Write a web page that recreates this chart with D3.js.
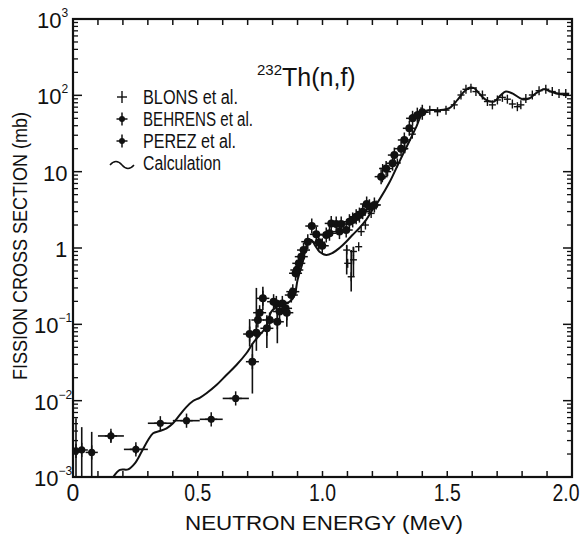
<!DOCTYPE html>
<html lang="en">
<head>
<meta charset="UTF-8">
<title>232Th(n,f)</title>
<script src="https://cdn.jsdelivr.net/npm/d3@7/dist/d3.min.js"></script>
<style>
  body { margin: 0; background: #fff; }
  svg { display: block; }
  text { font-family: "Liberation Sans", Arimo, sans-serif; fill: #111; }
</style>
</head>
<body>
<svg id="mainsvg" width="584" height="535"></svg>
<script>
// calculation curve (MeV, mb)
const calcE = [0.161, 0.188, 0.221, 0.248, 0.275, 0.301, 0.321, 0.348, 0.375, 0.401, 0.428, 0.455, 0.481, 0.508, 0.535, 0.575, 0.615, 0.655, 0.695, 0.721, 0.748, 0.775, 0.795, 0.828, 0.868, 0.888, 0.9, 0.92, 0.94, 0.955, 0.972, 0.988, 1.015, 1.04, 1.068, 1.095, 1.12, 1.148, 1.175, 1.2, 1.228, 1.268, 1.308, 1.348, 1.375, 1.401, 1.428, 1.468, 1.508, 1.541, 1.568, 1.588, 1.608, 1.628, 1.655, 1.688, 1.715, 1.735, 1.761, 1.801, 1.828, 1.855, 1.888, 1.915, 1.948, 1.988];
const calcS = [0.001, 0.00124, 0.00126, 0.00151, 0.00214, 0.00305, 0.00374, 0.0040, 0.00435, 0.00506, 0.0065, 0.0083, 0.0099, 0.0109, 0.0125, 0.016, 0.0217, 0.0293, 0.0418, 0.0565, 0.0725, 0.093, 0.147, 0.179, 0.198, 0.242, 0.381, 0.637, 1.16, 1.27, 1.06, 0.895, 0.81, 0.86, 1.0, 1.21, 1.48, 1.83, 2.33, 3.15, 4.3, 7.2, 13.5, 25, 38, 58, 64, 64, 68, 87, 112, 126, 124, 106, 87, 83, 101, 112, 106, 89, 91, 106, 120, 112, 104, 101];

// BLONS et al.
const blonsE = [1.097, 1.101, 1.115, 1.124, 1.124, 1.145, 1.155, 1.172, 1.195, 1.215, 1.24, 1.241, 1.261, 1.30, 1.33, 1.36, 1.395, 1.43, 1.461, 1.495, 1.528, 1.555, 1.575, 1.595, 1.615, 1.641, 1.661, 1.681, 1.701, 1.721, 1.741, 1.761, 1.781, 1.795, 1.815, 1.841, 1.868, 1.895, 1.921, 1.948, 1.975];
const blonsS = [0.94, 0.63, 0.42, 0.9, 0.70, 1.04, 1.64, 2.0, 2.84, 3.66, 8.3, 11, 10, 13, 20, 31, 61, 64, 61, 64, 75, 101, 120, 124, 112, 101, 83, 75, 87, 94, 89, 77, 71, 75, 91, 101, 115, 120, 112, 106, 106];
const blonsErrE = [1.097, 1.115, 1.124];
const blonsErrLo = [0.45, 0.27, 0.42];
const blonsErrHi = [1.1, 0.94, 1.04];

// BEHRENS et al.
const behE = [0.708, 0.719, 0.735, 0.741, 0.748, 0.761, 0.777, 0.788, 0.804, 0.815, 0.819, 0.828, 0.839, 0.852, 0.857, 0.875, 0.881, 0.892, 0.897, 0.905, 0.915, 0.924, 0.941, 0.957, 0.975, 0.985, 0.999, 1.015, 1.028, 1.035, 1.055, 1.068, 1.075, 1.095, 1.108, 1.121, 1.135, 1.148, 1.161, 1.177, 1.188, 1.208, 1.235, 1.255, 1.281, 1.288, 1.315, 1.328, 1.348, 1.361, 1.38, 1.40];
const behS = [0.0746, 0.0324, 0.0776, 0.114, 0.142, 0.219, 0.0887, 0.114, 0.198, 0.188, 0.108, 0.147, 0.188, 0.162, 0.142, 0.242, 0.268, 0.467, 0.515, 0.63, 0.77, 0.94, 1.21, 1.94, 1.51, 1.19, 1.07, 1.48, 1.56, 2.1, 2.06, 1.64, 2.06, 1.72, 2.21, 2.33, 2.57, 2.7, 2.99, 3.77, 3.47, 3.66, 8.6, 11, 12.9, 16.5, 20, 26, 37, 50, 55, 60];
const behErrE = [0.708, 0.719, 0.735, 0.761, 0.777, 0.819, 0.857];
const behErrLo = [0.051, 0.0124, 0.045, 0.154, 0.049, 0.0565, 0.093];
const behErrHi = [0.117, 0.057, 0.30, 0.311, 0.132, 0.14, 0.174];

// PEREZ et al.
const perezE = [0.012, 0.035, 0.075, 0.152, 0.252, 0.35, 0.455, 0.554, 0.652];
const perezS = [0.0022, 0.00226, 0.0021, 0.00345, 0.0023, 0.00506, 0.00547, 0.0057, 0.0107];
const perezELo = [null, null, null, 0.1, 0.204, 0.3, 0.4, 0.508, 0.6];
const perezEHi = [null, null, null, 0.204, 0.3, 0.4, 0.508, 0.6, 0.705];
const perezSLo = [0.001, 0.001, 0.001, 0.0029, 0.002, null, null, null, null];
const perezSHi = [0.0059, 0.0045, 0.0039, 0.004, 0.0026, null, null, null, null];

const xTicks = [0, 0.5, 1.0, 1.5, 2.0];
const xTickLabels = ["0", "0.5", "1.0", "1.5", "2.0"];
const yTicks = [1e3, 1e2, 10, 1, 1e-1, 1e-2, 1e-3];
const yTickBase = ["10", "10", "10", "1", "10", "10", "10"];
const yTickSup = ["3", "2", "", "", "−1", "−2", "−3"];
const legendNames = ["BLONS et al.", "BEHRENS et al.", "PEREZ et al.", "Calculation"];
const legendWidths = [95, 110, 93, 78];

const svg = d3.select("#mainsvg");
const x = d3.scaleLinear().domain([0, 2]).range([73, 572]);
const y = d3.scaleLog().domain([1e-3, 1e3]).range([477, 19]);
const ink = "#111";

svg.append("defs").append("clipPath").attr("id", "clip")
  .append("rect").attr("x", 73).attr("y", 19).attr("width", 499).attr("height", 458);

// frame
svg.append("rect").attr("x", 73).attr("y", 19).attr("width", 499).attr("height", 458)
  .attr("fill", "none").attr("stroke", ink).attr("stroke-width", 2.2);

// x ticks every 0.1, inside, bottom and top
const xMinor = d3.range(1, 20).map(i => i / 10);
svg.append("g").selectAll("line").data(xMinor).join("line")
  .attr("x1", d => x(d)).attr("x2", d => x(d))
  .attr("y1", 477).attr("y2", 471).attr("stroke", ink).attr("stroke-width", 1.5);
svg.append("g").selectAll("line").data(xMinor).join("line")
  .attr("x1", d => x(d)).attr("x2", d => x(d))
  .attr("y1", 19).attr("y2", 25).attr("stroke", ink).attr("stroke-width", 1.5);

// log ticks left and right
const yMinor = [];
for (let p = -3; p < 3; p++) for (let m = 2; m <= 9; m++) yMinor.push(m * Math.pow(10, p));
[[73, 1], [572, -1]].forEach(([x0, dir]) => {
  svg.append("g").selectAll("line").data(yMinor).join("line")
    .attr("x1", x0).attr("x2", x0 + dir * 5)
    .attr("y1", d => y(d)).attr("y2", d => y(d)).attr("stroke", ink).attr("stroke-width", 1.3);
  svg.append("g").selectAll("line").data(yTicks).join("line")
    .attr("x1", x0).attr("x2", x0 + dir * 9)
    .attr("y1", d => y(d)).attr("y2", d => y(d)).attr("stroke", ink).attr("stroke-width", 1.5);
});

// x tick labels
svg.append("g").selectAll("text").data(xTicks).join("text")
  .attr("x", (d, i) => i === 4 ? x(d) - 6 : x(d)).attr("y", 501).attr("text-anchor", "middle")
  .attr("font-size", 23)
  .attr("textLength", (d, i) => i === 0 ? null : 27).attr("lengthAdjust", "spacingAndGlyphs")
  .text((d, i) => xTickLabels[i]);

// y tick labels: base number with raised exponent in one text
const yl = svg.append("g").selectAll("text").data(yTicks).join("text")
  .attr("x", (d, i) => yTickSup[i].length > 1 ? 34 : yTickSup[i] !== "" ? 37 : (yTickBase[i] === "1" ? 55 : 43))
  .attr("y", d => y(d) + 9).attr("font-size", 22);
yl.append("tspan").text((d, i) => yTickBase[i]);
yl.append("tspan").attr("dy", -11).attr("font-size", 12)
  .text((d, i) => yTickSup[i]);

// axis titles
svg.append("text").attr("x", 324).attr("y", 530).attr("text-anchor", "middle")
  .attr("font-size", 21).attr("textLength", 278).attr("lengthAdjust", "spacingAndGlyphs")
  .text("NEUTRON ENERGY (MeV)");
svg.append("text").attr("transform", "translate(27,246) rotate(-90)").attr("text-anchor", "middle")
  .attr("font-size", 21).attr("textLength", 268).attr("lengthAdjust", "spacingAndGlyphs")
  .text("FISSION CROSS SECTION (mb)");

// title
const title = svg.append("text").attr("x", 257).attr("y", 86).attr("font-size", 25);
title.append("tspan").attr("font-size", 15).attr("dy", -11).text("232");
title.append("tspan").attr("dy", 11).text("Th(n,f)");

const plot = svg.append("g").attr("clip-path", "url(#clip)");

// calculation
const line = d3.line().x(d => x(d[0])).y(d => y(d[1])).curve(d3.curveCatmullRom);
plot.append("path").datum(calcE.map((e, i) => [e, calcS[i]]))
  .attr("d", line).attr("fill", "none").attr("stroke", ink).attr("stroke-width", 2);

// error bars
function vErr(E, lo, hi) {
  plot.append("g").selectAll("line").data(E).join("line")
    .attr("x1", d => x(d)).attr("x2", d => x(d))
    .attr("y1", (d, i) => y(lo[i])).attr("y2", (d, i) => y(hi[i]))
    .attr("stroke", ink).attr("stroke-width", 1.6);
}
vErr(behErrE, behErrLo, behErrHi);
vErr(blonsErrE, blonsErrLo, blonsErrHi);
const pv = perezE.map((e, i) => i).filter(i => perezSLo[i] !== null);
vErr(pv.map(i => perezE[i]), pv.map(i => perezSLo[i]), pv.map(i => perezSHi[i]));
const ph = perezE.map((e, i) => i).filter(i => perezELo[i] !== null);
plot.append("g").selectAll("line").data(ph).join("line")
  .attr("x1", i => x(perezELo[i])).attr("x2", i => x(perezEHi[i]))
  .attr("y1", i => y(perezS[i])).attr("y2", i => y(perezS[i]))
  .attr("stroke", ink).attr("stroke-width", 1.6);

// markers
function plus(g, cx, cy, r, w) {
  g.append("line").attr("x1", cx - r).attr("x2", cx + r).attr("y1", cy).attr("y2", cy)
    .attr("stroke", ink).attr("stroke-width", w);
  g.append("line").attr("x1", cx).attr("x2", cx).attr("y1", cy - r - 1).attr("y2", cy + r + 1)
    .attr("stroke", ink).attr("stroke-width", w);
}
function dotPlus(g, cx, cy, r) {
  plus(g, cx, cy, r + 2.5, 1.5);
  g.append("circle").attr("cx", cx).attr("cy", cy).attr("r", r).attr("fill", ink);
}
blonsE.forEach((e, i) => plus(plot, x(e), y(blonsS[i]), 3.5, 1.4));
behE.forEach((e, i) => dotPlus(plot, x(e), y(behS[i]), 4));
perezE.forEach((e, i) => dotPlus(plot, x(e), y(perezS[i]), 3.6));

// legend
const lg = svg.append("g");
const rowY = [97, 119, 141, 163];
plus(lg, 122, rowY[0], 5, 1.4);
dotPlus(lg, 122, rowY[1], 3);
dotPlus(lg, 122, rowY[2], 3);
lg.append("path").attr("d", `M110,${rowY[3] + 2} q6,-7 12,0 t12,0`)
  .attr("fill", "none").attr("stroke", ink).attr("stroke-width", 1.5);
lg.selectAll("text").data(legendNames).join("text")
  .attr("x", 143).attr("y", (d, i) => rowY[i] + 7).attr("font-size", 20)
  .attr("textLength", (d, i) => legendWidths[i]).attr("lengthAdjust", "spacingAndGlyphs")
  .text(d => d);
</script>
</body>
</html>
